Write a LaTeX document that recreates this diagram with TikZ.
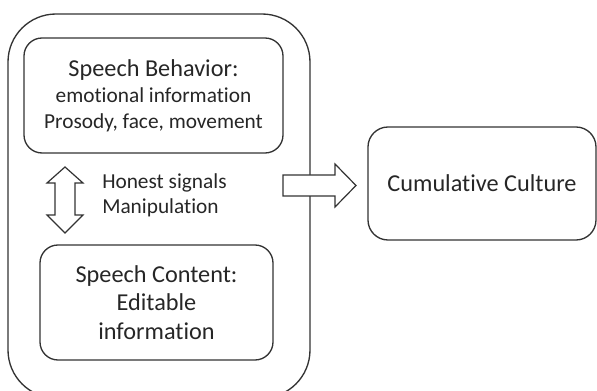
\documentclass[tikz,border=0pt]{standalone}
\usepackage{fontspec}
\setmainfont{Carlito}[Ligatures=NoCommon]
\usetikzlibrary{positioning}

\begin{document}
\begin{tikzpicture}[x=0.75pt, y=-0.75pt,
  box/.style={draw=black!80, line width=1pt, rounded corners=13.5pt, align=center, inner sep=0pt, text=black!85},
  big/.style={font=\fontsize{18.2}{21.5}\selectfont},
  small/.style={font=\fontsize{16}{19}\selectfont},
  blockarrow/.style={draw=black!80, line width=0.9pt, fill=white, line join=miter}
]
\useasboundingbox (0,0) rectangle (597,391);

% outer frame around the two speech boxes
\node[box, rounded corners=36pt, minimum width=226.5pt, minimum height=288pt] (frame) at (159, 206) {};

\node[box, small, minimum width=194.25pt, minimum height=86.25pt] (behavior) at (153.5, 95.5)
  {{\fontsize{18.2}{21.5}\selectfont Speech Behavior:}\\[1pt]emotional information\\Prosody, face, movement};

\node[box, big, minimum width=174.75pt, minimum height=86.25pt] (content) at (156.5, 302.5)
  {Speech Content:\\Editable\\information};

\node[box, big, rounded corners=15pt, minimum width=171pt, minimum height=84.75pt] (culture) at (482, 183.5)
  {Cumulative Culture};

\node[small, align=left, anchor=west, inner sep=0pt, text=black!85] (signals) at (102, 195.5)
  {Honest signals\\Manipulation};

% block arrows
\draw[blockarrow] (65,167) -- (83,183) -- (75,183) -- (75,215) -- (83,215) -- (65,233)
  -- (47,215) -- (55,215) -- (55,183) -- (47,183) -- cycle;
\draw[blockarrow] (283,175) -- (335,175) -- (335,164) -- (356,185.5) -- (335,207)
  -- (335,196) -- (283,196) -- cycle;

\end{tikzpicture}
\end{document}
